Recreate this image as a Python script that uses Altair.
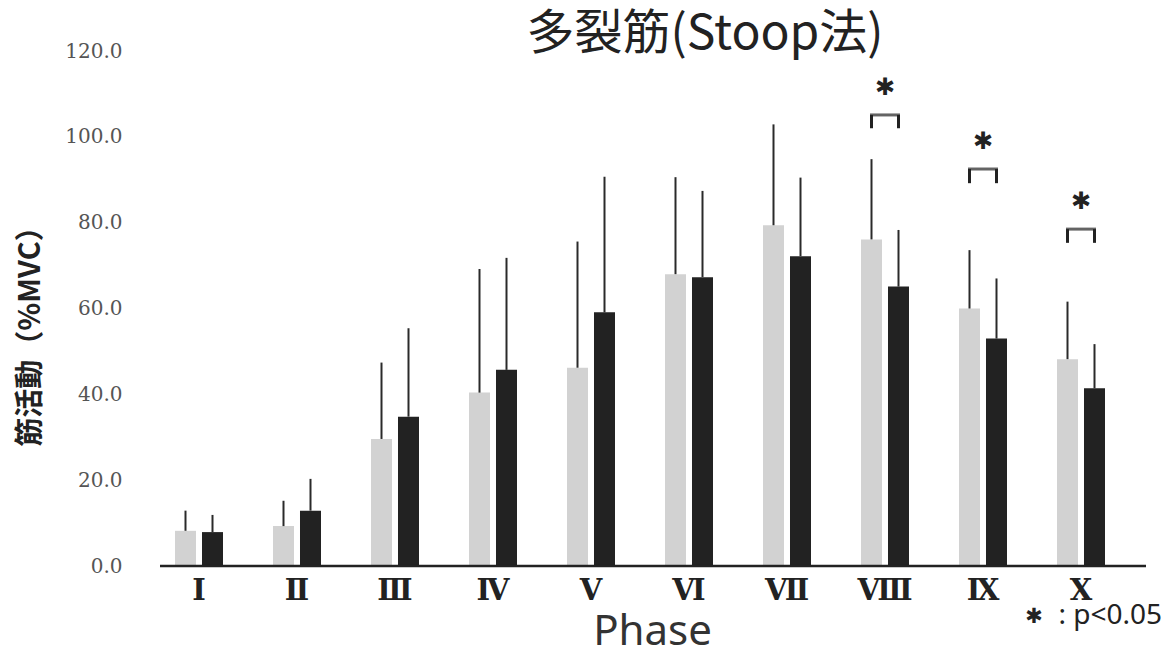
import altair as alt
import pandas as pd

phases = ["Ⅰ", "Ⅱ", "Ⅲ", "Ⅳ", "Ⅴ", "Ⅵ", "Ⅶ", "Ⅷ", "Ⅸ", "Ⅹ"]
groups = ["群1", "群2"]
gray_mean = [8.2, 9.3, 29.6, 40.4, 46.2, 68.0, 79.4, 76.1, 60.0, 48.2]
gray_sd = [4.7, 5.9, 17.8, 28.8, 29.4, 22.6, 23.5, 18.7, 13.6, 13.4]
black_mean = [7.9, 12.9, 34.8, 45.7, 59.1, 67.3, 72.2, 65.1, 53.0, 41.4]
black_sd = [4.0, 7.4, 20.6, 26.1, 31.6, 20.1, 18.3, 13.2, 14.0, 10.3]

sig_phases = ["Ⅷ", "Ⅸ", "Ⅹ"]
bracket_top = [105.1, 92.5, 78.5]
bracket_tick = [102.0, 89.2, 75.3]
star_y = [111.4, 98.8, 84.8]

title_text = "多裂筋(Stoop法)"
note_star_text = "✱"
note_text_str = ": p<0.05"

rows = []
for i, p in enumerate(phases):
    rows.append({"phase": p, "group": groups[0], "mean": gray_mean[i], "upper": gray_mean[i] + gray_sd[i]})
    rows.append({"phase": p, "group": groups[1], "mean": black_mean[i], "upper": black_mean[i] + black_sd[i]})
df = pd.DataFrame(rows)

brows = []
for i, p in enumerate(sig_phases):
    for g in groups:
        brows.append({"phase": p, "group": g, "top": bracket_top[i], "tick": bracket_tick[i]})
bdf = pd.DataFrame(brows)
sdf = pd.DataFrame({"phase": sig_phases, "star": star_y, "top": bracket_top, "label": ["✱"] * 3})

W, H = 980, 515

xenc = alt.X("phase:N", sort=phases,
             scale=alt.Scale(paddingInner=0, paddingOuter=0),
             axis=alt.Axis(title="Phase", labelAngle=0, domain=False, ticks=False, tickSize=0,
                           labelFont="DejaVu Serif", labelFontWeight="bold", labelFontSize=29,
                           labelColor="#222", labelPadding=33, labelBaseline="alphabetic",
                           titleFont="Noto Sans", titleFontSize=42, titleFontWeight="normal",
                           titleColor="#333", titleX=502, titleY=78, titleBaseline="alphabetic",
                           titleAlign="center"))
xoff = alt.XOffset("group:N", sort=groups,
                   scale=alt.Scale(paddingInner=0.222, paddingOuter=0.926))
yscale = alt.Scale(domain=[0, 120], nice=False)

bars = alt.Chart(df).mark_bar(width=21).encode(
    x=xenc,
    xOffset=xoff,
    y=alt.Y("mean:Q", scale=yscale,
            axis=alt.Axis(title="筋活動（%MVC）", values=[0, 20, 40, 60, 80, 100, 120], format=".1f",
                          domain=False, ticks=False, tickSize=0, grid=False,
                          labelFont="DejaVu Serif", labelFontSize=20, labelColor="#555",
                          labelPadding=28,
                          titleFont="Noto Sans CJK JP", titleFontSize=29, titleFontWeight="bold",
                          titleColor="#222", titleX=-120, titleY=278, titleAngle=-90,
                          titleAlign="center", titleBaseline="middle")),
    color=alt.Color("group:N", sort=groups,
                    scale=alt.Scale(domain=groups, range=["#d2d2d2", "#222222"]), legend=None),
)

err = alt.Chart(df).mark_rule(color="#2a2a2a", strokeWidth=2).encode(
    x=alt.X("phase:N", sort=phases),
    xOffset=alt.XOffset("group:N", sort=groups),
    y=alt.Y("mean:Q"),
    y2="upper:Q",
)

bracket_v = alt.Chart(bdf).mark_rule(color="#222", strokeWidth=3).encode(
    x=alt.X("phase:N", sort=phases),
    xOffset=alt.XOffset("group:N", sort=groups),
    y=alt.Y("tick:Q"),
    y2="top:Q",
)

bracket_h = alt.Chart(sdf).mark_tick(color="#222", thickness=3, size=30).encode(
    x=alt.X("phase:N", sort=phases),
    y=alt.Y("top:Q"),
)

stars = alt.Chart(sdf).mark_text(fontSize=24, font="DejaVu Sans", color="#222", baseline="middle").encode(
    x=alt.X("phase:N", sort=phases),
    y=alt.Y("star:Q"),
    text="label:N",
)

baseline_rule = alt.Chart(pd.DataFrame({"v": [0]})).mark_rule(color="#222", strokeWidth=2.5).encode(
    x=alt.value(10), x2=alt.value(996), y=alt.value(H)
)

title_df = pd.DataFrame({"t": [title_text]})
title_mark = alt.Chart(title_df).mark_text(fontSize=48, font="Noto Sans CJK JP", color="#222",
                                           baseline="alphabetic", align="center").encode(
    x=alt.value(555), y=alt.value(-2), text="t:N")

note_df = pd.DataFrame({"star": [note_star_text], "text": [note_text_str]})
note_star = alt.Chart(note_df).mark_text(fontSize=21, font="DejaVu Sans", color="#222",
                                         baseline="middle", align="center").encode(
    x=alt.value(884), y=alt.value(566), text="star:N")
note_text = alt.Chart(note_df).mark_text(fontSize=28, font="Noto Sans", color="#222",
                                         baseline="alphabetic", align="right").encode(
    x=alt.value(1012), y=alt.value(573), text="text:N")

chart = alt.layer(bars, err, bracket_v, bracket_h, stars, baseline_rule, title_mark,
                  note_star, note_text).properties(
    width=W, height=H,
    background="white",
    autosize=alt.AutoSizeParams(type="none"),
    padding={"left": 142, "top": 43, "right": 35, "bottom": 80},
).configure_view(stroke=None)

chart.save("out.html", embed_options={"renderer": "svg", "actions": False})
